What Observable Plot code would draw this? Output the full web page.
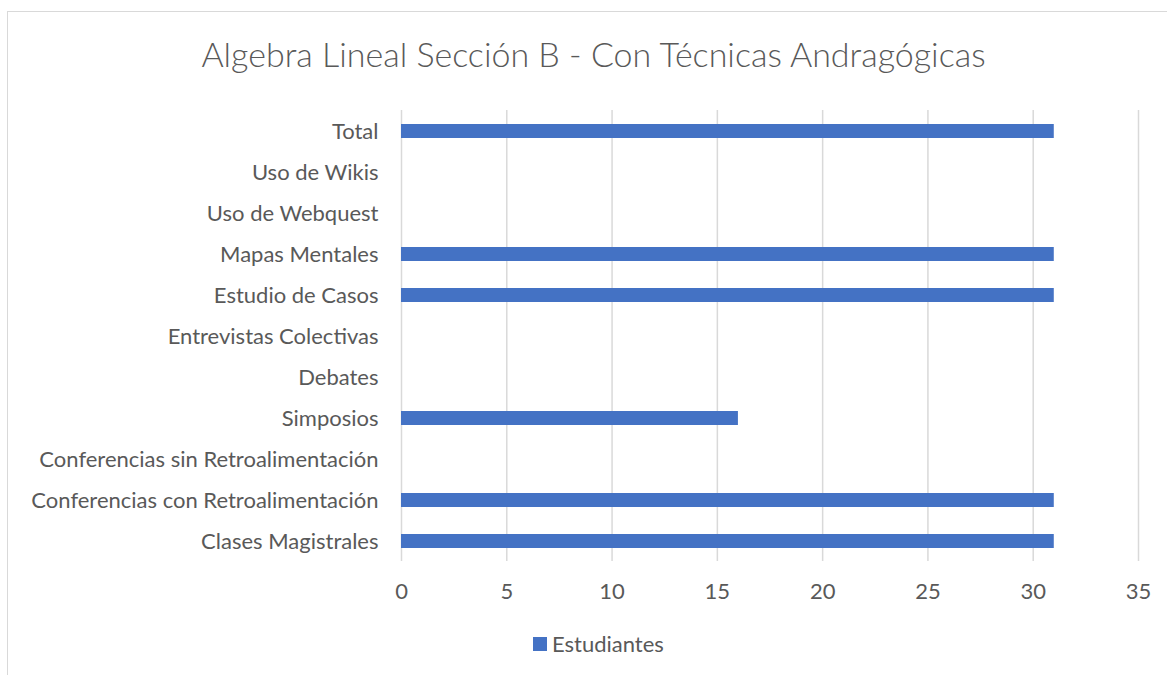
<!DOCTYPE html>
<html>
<head>
<meta charset="utf-8">
<script src="https://cdn.jsdelivr.net/npm/d3@7"></script>
<script src="https://cdn.jsdelivr.net/npm/@observablehq/plot@0.6"></script>
<style>
  html, body { margin: 0; padding: 0; background: #fff; overflow: hidden; }
  body { width: 1167px; height: 675px; position: relative; font-family: Lato, "Open Sans", sans-serif; }
  #frame { position: absolute; left: 7px; top: 11px; width: 1200px; height: 700px;
           border-left: 1.5px solid #d9d9d9; border-top: 1.5px solid #d9d9d9; }
  #title { position: absolute; left: 0; width: 1187px; top: 33px; text-align: center;
           font-size: 34px; font-weight: 300; color: #595959; white-space: nowrap; }
  #chart { position: absolute; left: 0; top: 0; }
  #legend { position: absolute; top: 630px; left: 533px; font-size: 22px; color: #595959;
            display: flex; align-items: center; white-space: nowrap; }
  #legend .sw { width: 14px; height: 14px; background: #4472C4; margin-right: 5px; }
</style>
</head>
<body>
<div id="frame"></div>
<div id="title">Algebra Lineal Sección B - Con Técnicas Andragógicas</div>
<div id="chart"></div>
<div id="legend"><span class="sw"></span><span>Estudiantes</span></div>
<script>
const categories = [
  "Clases Magistrales",
  "Conferencias con Retroalimentación",
  "Conferencias sin Retroalimentación",
  "Simposios",
  "Debates",
  "Entrevistas Colectivas",
  "Estudio de Casos",
  "Mapas Mentales",
  "Uso de Webquest",
  "Uso de Wikis",
  "Total"
];
const estudiantes = [31, 31, 0, 16, 0, 0, 31, 31, 0, 0, 31];
const xTicks = [0, 5, 10, 15, 20, 25, 30, 35];

const data = categories.map((c, i) => ({categoria: c, valor: estudiantes[i]}));

const chart = Plot.plot({
  width: 1167,
  height: 675,
  marginLeft: 401,
  marginRight: 29,
  marginTop: 110,
  marginBottom: 114,
  style: {fontFamily: "Lato, 'Open Sans', sans-serif", fontSize: "22px", color: "#595959", background: "transparent"},
  x: {domain: [0, 35], ticks: xTicks},
  y: {domain: categories.slice().reverse(), paddingInner: 0.66, paddingOuter: 0.33},
  marks: [
    Plot.gridX(xTicks, {stroke: "#d9d9d9", strokeOpacity: 1, strokeWidth: 1.5}),
    Plot.barX(data, {x: "valor", y: "categoria", fill: "#4472C4"}),
    Plot.axisX({ticks: xTicks, tickSize: 0, tickPadding: 22, label: null, fill: "#595959", fontSize: 22}),
    Plot.axisY({tickSize: 0, tickPadding: 23, label: null, fill: "#595959", fontSize: 22})
  ]
});
document.getElementById("chart").appendChild(chart);
</script>
</body>
</html>
